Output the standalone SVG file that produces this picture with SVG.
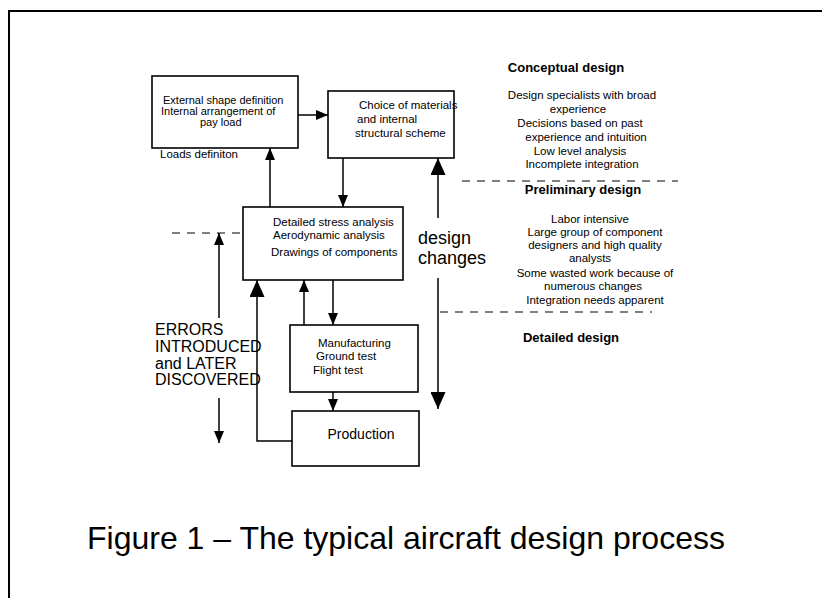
<svg xmlns="http://www.w3.org/2000/svg" width="822" height="598" viewBox="0 0 822 598">
<style>
.box{fill:#fff;stroke:#000;stroke-width:1.6}
.t{font-family:"Liberation Sans",Arial,sans-serif;font-size:11.5px;fill:#000}
.s{font-size:11px}
.c{text-anchor:middle}
.b{font-weight:bold;font-size:13px}
.ln{fill:none;stroke:#000;stroke-width:1.5}
.dash{fill:none;stroke:#000;stroke-width:1.2;stroke-dasharray:8 7}
</style>
<defs>
<marker id="a" markerUnits="userSpaceOnUse" viewBox="0 0 12 10" markerWidth="12" markerHeight="10" refX="12" refY="5" orient="auto" preserveAspectRatio="none"><path d="M0,0 L12,5 L0,10 z" fill="#000"/></marker>
<marker id="A" markerUnits="userSpaceOnUse" viewBox="0 0 17 15" markerWidth="17" markerHeight="15" refX="17" refY="7.5" orient="auto" preserveAspectRatio="none"><path d="M0,0 L17,7.5 L0,15 z" fill="#000"/></marker>
</defs>
<rect width="822" height="598" fill="#fff"/>
<path d="M9,598 V11 H822" fill="none" stroke="#000" stroke-width="2"/>

<g id="connectors">
<line class="ln" x1="298" y1="115" x2="328" y2="115" marker-end="url(#a)"/>
<line class="ln" x1="270" y1="207" x2="270" y2="148" marker-end="url(#a)"/>
<line class="ln" x1="343" y1="158" x2="343" y2="207" marker-end="url(#a)"/>
<line class="ln" x1="438" y1="218" x2="438" y2="158" marker-end="url(#A)"/>
<line class="ln" x1="438" y1="278" x2="438" y2="409" marker-end="url(#A)"/>
<line class="ln" x1="219" y1="318" x2="219" y2="233" marker-end="url(#a)"/>
<line class="ln" x1="219" y1="398" x2="219" y2="443" marker-end="url(#a)"/>
<polyline class="ln" points="292,441 257,441 257,280" marker-end="url(#A)"/>
<line class="ln" x1="304" y1="325" x2="304" y2="280" marker-end="url(#a)"/>
<line class="ln" x1="333" y1="280" x2="333" y2="325" marker-end="url(#a)"/>
<line class="ln" x1="333" y1="392" x2="333" y2="411" marker-end="url(#a)"/>
<line class="dash" x1="172" y1="233" x2="240" y2="233"/>
<line class="dash" x1="462" y1="181" x2="678" y2="181"/>
<line class="dash" x1="440" y1="312" x2="652" y2="312"/>
</g>

<g id="node-shape">
<rect class="box" x="152" y="76" width="146" height="72"/>
<text class="t s" x="163" y="104">External shape definition</text>
<text class="t s" x="161" y="115">Internal arrangement of</text>
<text class="t s" x="200" y="126">pay load</text>
<text class="t" x="160" y="158">Loads definiton</text>
</g>

<g id="node-materials">
<rect class="box" x="328" y="91" width="126" height="67"/>
<text class="t" x="359" y="109">Choice of materials</text>
<text class="t" x="357" y="123">and internal</text>
<text class="t" x="355" y="137">structural scheme</text>
</g>

<g id="node-analysis">
<rect class="box" x="243" y="207" width="160" height="73"/>
<text class="t" x="273" y="226">Detailed stress analysis</text>
<text class="t" x="273" y="239">Aerodynamic analysis</text>
<text class="t" x="271" y="256">Drawings of components</text>
</g>

<g id="node-manufacturing">
<rect class="box" x="290" y="325" width="128" height="67"/>
<text class="t" x="318" y="347">Manufacturing</text>
<text class="t" x="316" y="360">Ground test</text>
<text class="t" x="313" y="374">Flight test</text>
</g>

<g id="node-production">
<rect class="box" x="292" y="411" width="127" height="55"/>
<text class="t c" x="361" y="439" style="font-size:14px">Production</text>
</g>

<g id="label-errors">
<text class="t" x="155" y="335" style="font-size:16px">ERRORS</text>
<text class="t" x="155" y="352" style="font-size:16px">INTRODUCED</text>
<text class="t" x="155" y="369" style="font-size:16px">and LATER</text>
<text class="t" x="155" y="385" style="font-size:16px">DISCOVERED</text>
</g>

<g id="label-design-changes">
<text class="t" x="418" y="244" style="font-size:18px">design</text>
<text class="t" x="418" y="264" style="font-size:18px">changes</text>
</g>

<g id="conceptual">
<text class="t c b" x="566" y="72">Conceptual design</text>
<text class="t c" x="582" y="99">Design specialists with broad</text>
<text class="t c" x="578" y="113">experience</text>
<text class="t c" x="580" y="127">Decisions based on past</text>
<text class="t c" x="586" y="141">experience and intuition</text>
<text class="t c" x="580" y="155">Low level analysis</text>
<text class="t c" x="582" y="168">Incomplete integration</text>
</g>

<g id="preliminary">
<text class="t c b" x="583" y="194">Preliminary design</text>
<text class="t c" x="590" y="223">Labor intensive</text>
<text class="t c" x="595" y="236">Large group of component</text>
<text class="t c" x="595" y="249">designers and high quality</text>
<text class="t c" x="590" y="262">analysts</text>
<text class="t c" x="595" y="277">Some wasted work because of</text>
<text class="t c" x="593" y="290">numerous changes</text>
<text class="t c" x="595" y="304">Integration needs apparent</text>
</g>

<g id="detailed">
<text class="t c b" x="571" y="342">Detailed design</text>
</g>

<text class="t" x="87" y="549" style="font-size:32px">Figure 1 – The typical aircraft design process</text>
</svg>
